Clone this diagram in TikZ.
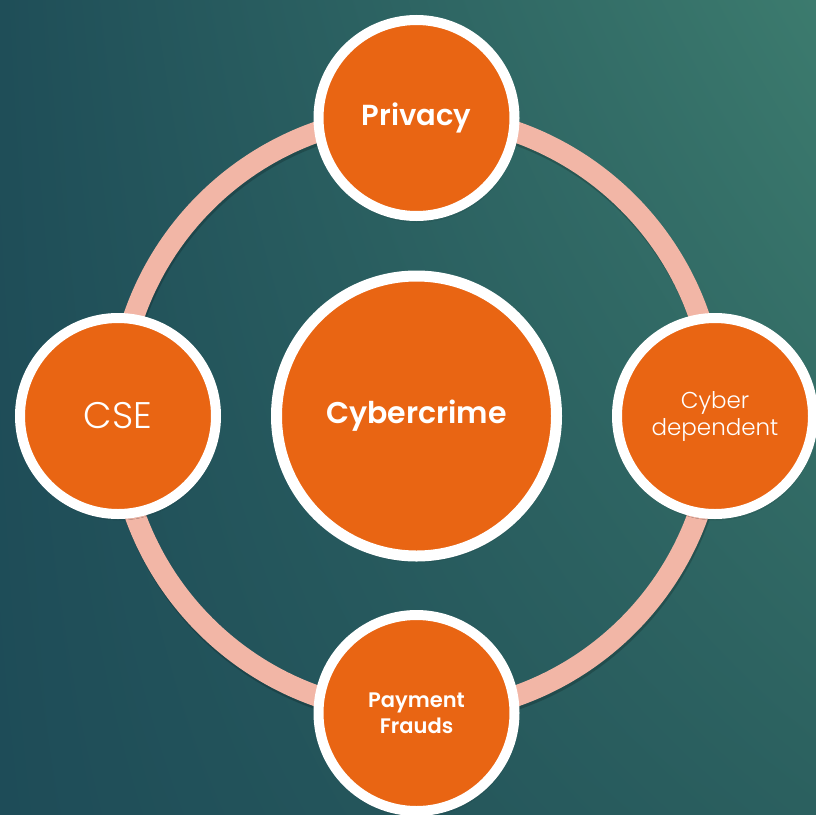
\documentclass[tikz,border=0pt]{standalone}
\usepackage{fontspec}
\setmainfont{Poppins}
\newfontfamily\boldface{Poppins}[UprightFont=* SemiBold]
\newfontfamily\lightface{Poppins}[UprightFont=* Light]
\usetikzlibrary{shadows.blur,shadings}
\definecolor{bgTL}{HTML}{1F4E58}
\definecolor{bgTR}{HTML}{3C7B6E}
\definecolor{bgBL}{HTML}{1E4C58}
\definecolor{bgBR}{HTML}{2B605F}
\definecolor{orangeC}{HTML}{E96513}
\definecolor{ringC}{HTML}{F2B6A6}
\tikzset{
  bubble/.style={circle, fill=orangeC, draw=white, line width=10pt, text=white, align=center,
    inner sep=0pt, blur shadow={shadow xshift=1pt, shadow yshift=-4pt, shadow opacity=35, shadow blur steps=6}},
  small/.style={bubble, minimum size=196pt},
  big/.style={bubble, minimum size=280pt, line width=11pt},
  ring/.style={draw=ringC, line width=21pt},
  ringshadow/.style={draw=black, opacity=0.18, line width=21pt}
}
\begin{document}
\begin{tikzpicture}[x=1pt,y=-1pt]
\useasboundingbox (0,0) rectangle (816,814);
\clip (0,0) rectangle (816,814);
\shade[upper left=bgTL, upper right=bgTR, lower left=bgBL, lower right=bgBR] (0,814) rectangle (816,0);
\coordinate (O) at (416.5,414);
\draw[ringshadow] ([yshift=-3pt,xshift=1pt]O) circle[radius=299pt];
\draw[ring] (O) circle[radius=299pt];
\node[big, font=\boldface\fontsize{30}{34}\selectfont] (center) at (416.5,416) {Cybercrime};
\node[small, font=\boldface\fontsize{29}{32}\selectfont] (top) at (416.5,118) {Privacy};
\node[small, font=\lightface\fontsize{37}{40}\selectfont] (left) at (118,416) {CSE};
\node[small, font=\lightface\fontsize{23}{27}\selectfont] (right) at (715,416) {Cyber\\dependent};
\node[small, font=\boldface\fontsize{21}{26}\selectfont] (bottom) at (416.5,713) {Payment\\Frauds};
\end{tikzpicture}
\end{document}
